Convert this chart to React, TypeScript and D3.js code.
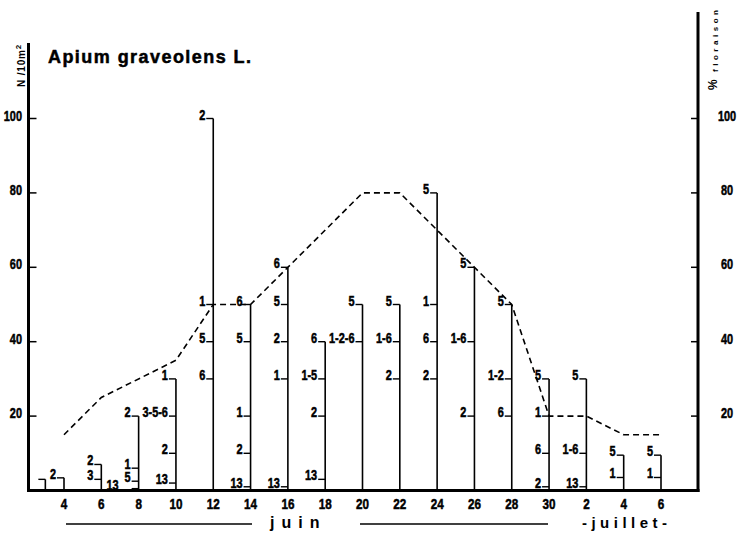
import React from 'react';
import * as d3 from 'd3';

const stemDays = [3, 4, 6, 8, 10, 12, 14, 16, 18, 20, 22, 24, 26, 28, 30, 32, 34, 36];
const stemValues = [
  [3], [3.4], [7, 3], [20, 6, 2.5, 0.5], [30, 20, 10, 2], [100, 50, 40, 30],
  [50, 40, 20, 10, 1], [60, 50, 40, 30, 1], [40, 30, 20, 3], [50, 40], [50, 40, 30],
  [80, 50, 40, 30], [60, 40, 20], [50, 30, 20], [30, 20, 10, 1], [30, 10, 1], [9.5, 3.5], [9.5, 3.5],
];
const stemLabels = [
  [''], ['2'], ['2', '3'], ['2', '1', '5', '13'], ['1', '3-5-6', '2', '13'], ['2', '1', '5', '6'],
  ['6', '5', '1', '2', '13'], ['6', '5', '2', '1', '13'], ['6', '1-5', '2', '13'], ['5', '1-2-6'], ['5', '1-6', '2'],
  ['5', '1', '6', '2'], ['5', '1-6', '2'], ['5', '1-2', '6'], ['5', '1', '6', '2'], ['5', '1-6', '13'], ['5', '1'], ['5', '1'],
];
const floweringDays = [4, 6, 10, 12, 14, 16, 20, 22, 24, 26, 28, 30, 32, 34, 36];
const floweringPct = [15, 25, 35, 50, 50, 60, 80, 80, 70, 60, 50, 20, 20, 15, 15];
const xTickDays = [4, 6, 8, 10, 12, 14, 16, 18, 20, 22, 24, 26, 28, 30, 32, 34, 36];
const xTickLabels = ['4', '6', '8', '10', '12', '14', '16', '18', '20', '22', '24', '26', '28', '30', '2', '4', '6'];
const yTicks = [20, 40, 60, 80, 100];

const SANS = "'Liberation Sans',Arial,sans-serif";
const SQ = 0.78;

function labelWidth(t: string, size: number) {
  let w = 0;
  for (const c of t) w += (c === '-' ? 0.333 : 0.556) * size * SQ;
  return w;
}

function NText(props: { x: number; y: number; anchor?: string; size?: number; children: React.ReactNode }) {
  const { x, y, anchor = 'start', size = 14, children } = props;
  return (
    <text
      transform={`translate(${x},${y}) scale(${SQ},1)`}
      textAnchor={anchor}
      fontFamily={SANS}
      fontWeight="bold"
      fontSize={size}
      stroke="#000"
      strokeWidth={0.5}
    >
      {children}
    </text>
  );
}

export default function App() {
  const W = 739, H = 534;
  const LS = 14;
  const x = d3.scaleLinear().domain([4, 36]).range([64, 661]);
  const y = d3.scaleLinear().domain([0, 100]).range([490.5, 118.5]);
  const leftX = 28.5, rightX = 698, baseY = y(0);

  const line = d3.line<number>()
    .x((_, i) => x(floweringDays[i]))
    .y((d) => y(d));

  const stems = stemDays.map((day, si) => {
    const sx = x(day);
    const vals = stemValues[si];
    const labs = stemLabels[si];
    const top = d3.max(vals) as number;
    const order = d3.range(vals.length).sort((a, b) => vals[b] - vals[a]);
    let prevY = -1000, prevLeft = sx - 8;
    const items = order.map((k) => {
      const ty = y(vals[k]);
      const by = ty + 1;
      let right = sx - 8;
      if (by - prevY < 10) right = prevLeft - 6;
      const left = right - labelWidth(labs[k], LS);
      prevY = by; prevLeft = left;
      return { ty, by, right, text: labs[k] };
    });
    return { sx, top, items };
  });

  return (
    <svg width={W} height={H} style={{ position: 'absolute', left: 0, top: 0, background: '#fff' }}>
      <rect width={W} height={H} fill="#fff" />
      {/* axes */}
      <line x1={leftX} y1={43} x2={leftX} y2={baseY + 1.5} stroke="#000" strokeWidth={3} />
      <line x1={rightX} y1={12} x2={rightX} y2={baseY + 1.5} stroke="#000" strokeWidth={3} />
      <line x1={leftX - 1.5} y1={baseY} x2={rightX + 1.5} y2={baseY} stroke="#000" strokeWidth={3.2} />
      {yTicks.map((t) => (
        <g key={t}>
          <line x1={leftX} x2={leftX + 8} y1={y(t)} y2={y(t)} stroke="#000" strokeWidth={1.5} />
          <line x1={rightX - 7} x2={rightX} y1={y(t)} y2={y(t)} stroke="#000" strokeWidth={1.5} />
          <NText x={22} y={y(t) + 2} anchor="end" size={14}>{t}</NText>
          <NText x={727} y={y(t) + 2} anchor="middle" size={14}>{t}</NText>
        </g>
      ))}
      {xTickDays.map((d, i) => (
        <NText key={i} x={x(d)} y={509} anchor="middle" size={15}>{xTickLabels[i]}</NText>
      ))}
      {/* stems */}
      {stems.map((s, i) => (
        <g key={i}>
          <line x1={s.sx} x2={s.sx} y1={y(s.top)} y2={baseY} stroke="#000" strokeWidth={1.6} />
          {s.items.map((it, j) => (
            <g key={j}>
              <line x1={s.sx - 7} x2={s.sx} y1={it.ty} y2={it.ty} stroke="#000" strokeWidth={1.4} />
              {it.text && (
                <NText x={it.right} y={it.by} anchor="end" size={LS}>{it.text}</NText>
              )}
            </g>
          ))}
        </g>
      ))}
      {/* flowering */}
      <path d={line(floweringPct) || ''} fill="none" stroke="#000" strokeWidth={1.6} strokeDasharray="6 4" />
      {/* titles */}
      <text x={48} y={63} fontFamily={SANS} fontWeight="bold" fontSize={18} stroke="#000" strokeWidth={0.5} textLength={203} lengthAdjust="spacing">Apium graveolens L.</text>
      <text transform="translate(25,87) rotate(-90)" fontFamily={SANS} fontWeight="bold" fontSize={10}>
        <tspan textLength={37} lengthAdjust="spacing">N /10m</tspan><tspan dy={-4} fontSize={8}>2</tspan>
      </text>
      <text transform="translate(717,90) rotate(-90)" fontFamily={SANS} fontWeight="bold" fontSize={12}>%</text>
      <text transform="translate(718,72) rotate(-90)" fontFamily={SANS} fontWeight="bold" fontSize={8} textLength={62} lengthAdjust="spacing">floraison</text>
      {/* month labels */}
      <line x1={66} x2={252} y1={524} y2={524} stroke="#000" strokeWidth={1.6} />
      <line x1={360} x2={548} y1={524} y2={524} stroke="#000" strokeWidth={1.6} />
      <text x={270} y={528} fontFamily={SANS} fontWeight="bold" fontSize={16} letterSpacing={7}>juin</text>
      <text x={582} y={528} fontFamily={SANS} fontWeight="bold" fontSize={15} textLength={85} lengthAdjust="spacing">-juillet-</text>
    </svg>
  );
}
